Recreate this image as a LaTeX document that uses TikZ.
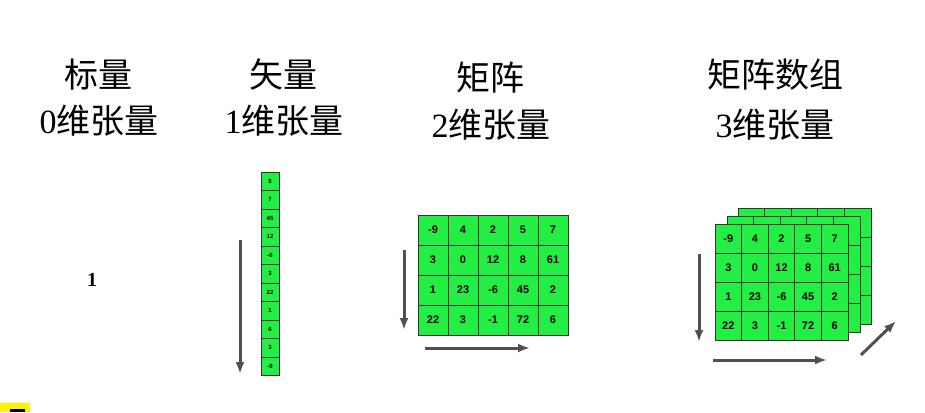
\documentclass[tikz,border=0pt]{standalone}
\usepackage{fontspec}
\setmainfont{Liberation Serif}
\setsansfont{Liberation Sans}
\newfontfamily\cjk{Noto Sans CJK SC}
\usetikzlibrary{arrows.meta,positioning}
\definecolor{cellgreen}{RGB}{34,238,68}
\definecolor{axisgray}{RGB}{80,80,80}

\begin{document}
\begin{tikzpicture}[
    x=1pt, y=-1pt,
    >={Latex[length=12pt,width=9pt]},
    title/.style={
		inner sep=0pt,
		font=\cjk\fontsize{34}{34}\selectfont
	},
    cell/.style={
		rectangle,
		draw=black!80,
		line width=0.8pt,
		fill=cellgreen,
		inner sep=0pt,
		outer sep=0pt,
		font=\sffamily\bfseries\fontsize{11}{11}\selectfont
	},
    vcell/.style={
		cell,
		minimum width=18pt,
		minimum height=18.5pt,
		font=\sffamily\bfseries\fontsize{6}{6}\selectfont
	},
    mcell/.style={
		cell,
		minimum width=30pt,
		minimum height=30pt
	},
    tcell/.style={
		cell,
		minimum width=26.6pt,
		minimum height=29pt
	},
    axis/.style={
		->,
		draw=axisgray,
		line width=3pt
	}
  ]
  \useasboundingbox (0,0) rectangle (925,412);

  % titles
  \node [title] (scalar)   at (98,75)  {标量};
  \node [title] (scalar2)  at (99,121) {{\rmfamily 0}维张量};
  \node [title] (vector)   at (283,75) {矢量};
  \node [title] (vector2)  at (284,121) {{\rmfamily 1}维张量};
  \node [title] (matrix)   at (490,78) {矩阵};
  \node [title] (matrix2)  at (491,125) {{\rmfamily 2}维张量};
  \node [title] (tensor)   at (775,75) {矩阵数组};
  \node [title] (tensor2)  at (775,125) {{\rmfamily 3}维张量};

  % scalar
  \node [font=\bfseries\fontsize{20}{20}\selectfont] (one) at (92,280) {1};

  % vector
  \foreach \v [count=\i] in {5,7,45,12,-6,3,22,1,6,3,-9}
    \node [vcell] (v-\i) at (270,{172+9.25+18.5*(\i-1)}) {\v};
  \coordinate (vtop) at (240,240);
  \coordinate (vbot) at (240,374);
  \draw [axis] (vtop) -- (vbot);

  % matrix
  \foreach \row [count=\r] in {{-9,4,2,5,7},{3,0,12,8,61},{1,23,-6,45,2},{22,3,-1,72,6}}
    \foreach \v [count=\c] in \row
      \node [mcell] (m-\r-\c) at ({418+15+30*(\c-1)},{215+15+30*(\r-1)}) {\v};
  \coordinate (mtop) at (404,250);
  \coordinate (mbot) at (404,330);
  \coordinate (mleft) at (425,348);
  \coordinate (mright) at (530,348);
  \draw [axis] (mtop) -- (mbot);
  \draw [axis] (mleft) -- (mright);

  % matrix array: two layers behind, then the front one
  \foreach \dx/\dy in {23/-16,12/-8}
    \foreach \r in {1,...,4}
      \foreach \c in {1,...,5}
        \node [tcell] at ({715+\dx+13.3+26.6*(\c-1)},{224+\dy+14.5+29*(\r-1)}) {};
  \foreach \row [count=\r] in {{-9,4,2,5,7},{3,0,12,8,61},{1,23,-6,45,2},{22,3,-1,72,6}}
    \foreach \v [count=\c] in \row
      \node [tcell] (t-\r-\c) at ({715+13.3+26.6*(\c-1)},{224+14.5+29*(\r-1)}) {\v};
  \coordinate (ttop) at (699,254);
  \coordinate (tbot) at (699,342);
  \coordinate (tleft) at (713,360);
  \coordinate (tright) at (827,360);
  \coordinate (tnear) at (861,355);
  \coordinate (tfar) at (896,321);
  \draw [axis] (ttop) -- (tbot);
  \draw [axis] (tleft) -- (tright);
  \draw [axis] (tnear) -- (tfar);

  % mark in the corner
  \fill [yellow] (0,403) rectangle (30,412);
  \fill [black] (10,409) rectangle (25,412);

\end{tikzpicture}
\end{document}
